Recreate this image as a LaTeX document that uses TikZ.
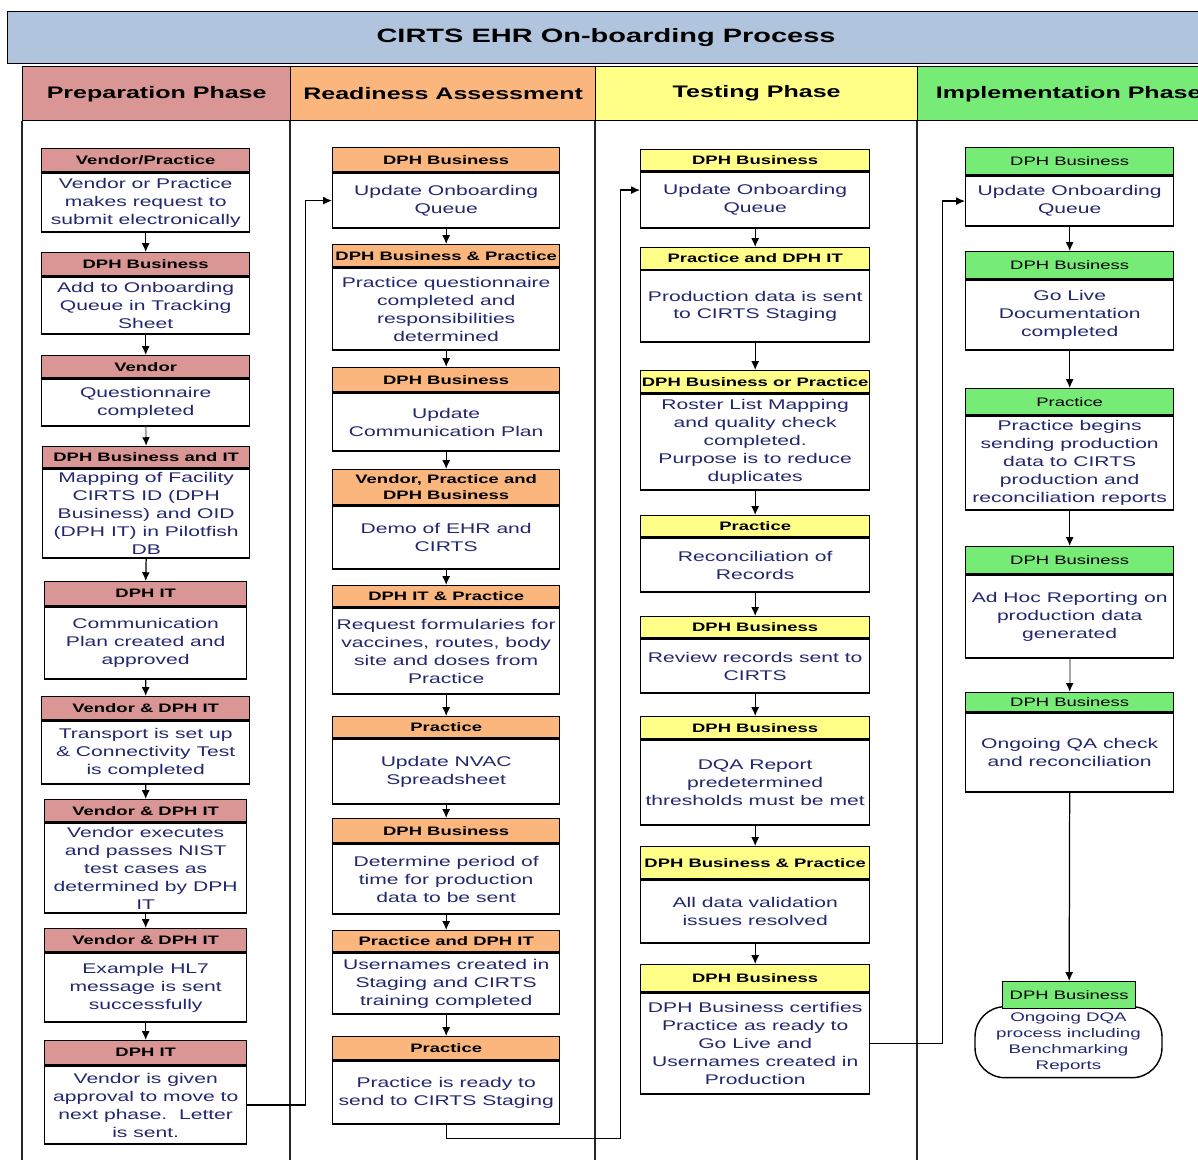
\documentclass[tikz,border=0pt]{standalone}
\usepackage{fontspec}
\setmainfont{Liberation Sans}[FakeStretch=1.5]
\usetikzlibrary{positioning,arrows.meta}

\definecolor{titleblue}{RGB}{176,196,222}
\definecolor{prepred}{RGB}{217,150,148}
\definecolor{readyorange}{RGB}{250,182,125}
\definecolor{testyellow}{RGB}{255,255,136}
\definecolor{implgreen}{RGB}{118,236,118}
\definecolor{bodyblue}{RGB}{35,40,110}

\tikzset{
    phase/.style={draw, line width=0.8pt, anchor=north west, inner sep=0pt, minimum height=1.08cm, font=\fontsize{9.5}{11}\selectfont\bfseries},
    hdr/.style={draw, line width=0.8pt, anchor=north west, inner sep=0pt, align=center, font=\fontsize{7}{9}\selectfont\bfseries},
    prep/.style={hdr, fill=prepred, minimum width=4.04cm},
    ready/.style={hdr, fill=readyorange, minimum width=4.54cm},
    test/.style={hdr, fill=testyellow, minimum width=4.58cm},
    impl/.style={hdr, fill=implgreen, minimum width=4.16cm, font=\fontsize{7}{9}\selectfont},
    txt/.style={draw, line width=0.8pt, fill=white, inner sep=0pt, align=center, text=bodyblue, font=\fontsize{8}{10.2}\selectfont},
    lane/.style={line width=0.7pt, draw=black!85},
    flow/.style={line width=0.7pt, -{Latex[length=5pt,width=4.5pt]}},
    flowgray/.style={line width=1.1pt, draw=black!35, -{Latex[length=5pt,width=4.5pt,color=black]}},
}

\begin{document}
\begin{tikzpicture}[x=0.02cm, y=-0.02cm]
    \useasboundingbox (0,0) rectangle (1198,1160);
    \clip (0,0) rectangle (1198,1160);

    % title and phases
    \node[draw, line width=0.8pt, fill=titleblue, anchor=north west, inner sep=0pt, minimum width=23.94cm, minimum height=1.04cm, font=\fontsize{11}{13}\selectfont\bfseries] (title) at (7,11) {CIRTS EHR On-boarding Process};
    \node[phase, fill=prepred, minimum width=5.36cm] (prep) at (22,66) {Preparation Phase};
    \node[phase, fill=readyorange, minimum width=6.10cm] (ready) at (290,66) {Readiness Assessment};
    \node[phase, fill=testyellow, minimum width=6.44cm] (test) at (595,66) {Testing Phase};
    \node[phase, fill=implgreen, minimum width=6.04cm] (impl) at (917,66) {Implementation Phase};

    \draw[lane] (prep.south west) -- ++(0,1040);
    \draw[lane] (ready.south west) -- ++(0,1040);
    \draw[lane] (test.south west) -- ++(0,1040);
    \draw[lane] (impl.south west) -- ++(0,1040);

    % Preparation Phase
    \node[prep, minimum width=4.16cm, minimum height=0.46cm] (p1h) at (41,148) {Vendor/Practice};
    \node[txt, minimum width=4.16cm, minimum height=1.18cm, below=0pt of p1h] (p1) {Vendor or Practice\\makes request to\\submit electronically};
    \node[prep, minimum width=4.16cm, minimum height=0.46cm] (p2h) at (41,252) {DPH Business};
    \node[txt, minimum width=4.16cm, minimum height=1.14cm, below=0pt of p2h] (p2) {Add to Onboarding\\Queue in Tracking\\Sheet};
    \node[prep, minimum width=4.16cm, minimum height=0.44cm] (p3h) at (41,355) {Vendor};
    \node[txt, minimum width=4.16cm, minimum height=0.94cm, below=0pt of p3h] (p3) {Questionnaire\\completed};
    \node[prep, minimum width=4.14cm, minimum height=0.42cm] (p4h) at (42,446) {DPH Business and IT};
    \node[txt, minimum width=4.14cm, minimum height=1.78cm, below=0pt of p4h] (p4) {Mapping of Facility\\CIRTS ID (DPH\\Business) and OID\\(DPH IT) in Pilotfish\\DB};
    \node[prep, minimum height=0.48cm] (p5h) at (44,581) {DPH IT};
    \node[txt, minimum width=4.04cm, minimum height=1.44cm, below=0pt of p5h] (p5) {Communication\\Plan created and\\approved};
    \node[prep, minimum width=4.16cm, minimum height=0.46cm] (p6h) at (41,696) {Vendor \& DPH IT};
    \node[txt, minimum width=4.16cm, minimum height=1.26cm, below=0pt of p6h] (p6) {Transport is set up\\\& Connectivity Test\\is completed};
    \node[prep, minimum height=0.44cm] (p7h) at (44,799) {Vendor \& DPH IT};
    \node[txt, minimum width=4.04cm, minimum height=1.80cm, below=0pt of p7h] (p7) {Vendor executes\\and passes NIST\\test cases as\\determined by DPH\\IT};
    \node[prep, minimum height=0.46cm] (p8h) at (44,928) {Vendor \& DPH IT};
    \node[txt, minimum width=4.04cm, minimum height=1.38cm, below=0pt of p8h] (p8) {Example HL7\\message is sent\\successfully};
    \node[prep, minimum height=0.48cm] (p9h) at (44,1040) {DPH IT};
    \node[txt, minimum width=4.04cm, minimum height=1.56cm, below=0pt of p9h] (p9) {Vendor is given\\approval to move to\\next phase.\ \ Letter\\is sent.};

    \draw[flow] (p1.south) -- (p2h.north);
    \draw[flow] (p2.south) -- (p3h.north);
    \draw[flowgray] (p3.south) -- (p4h.north);
    \draw[flow] (p4.south) -- (p5h.north);
    \draw[flow] (p5.south) -- (p6h.north);
    \draw[flow] (p6.south) -- (p7h.north);
    \draw[flow] (p7.south) -- (p8h.north);
    \draw[flow] (p8.south) -- (p9h.north);

    % Readiness Assessment
    \node[ready, minimum height=0.48cm] (r1h) at (332,147) {DPH Business};
    \node[txt, minimum width=4.54cm, minimum height=1.10cm, below=0pt of r1h] (r1) {Update Onboarding\\Queue};
    \node[ready, minimum height=0.44cm] (r2h) at (332,244) {DPH Business \& Practice};
    \node[txt, minimum width=4.54cm, minimum height=1.64cm, below=0pt of r2h] (r2) {Practice questionnaire\\completed and\\responsibilities\\determined};
    \node[ready, minimum height=0.48cm] (r3h) at (332,367) {DPH Business};
    \node[txt, minimum width=4.54cm, minimum height=1.16cm, below=0pt of r3h] (r3) {Update\\Communication Plan};
    \node[ready, minimum height=0.70cm] (r4h) at (332,469) {Vendor, Practice and\\DPH Business};
    \node[txt, minimum width=4.54cm, minimum height=1.26cm, below=0pt of r4h] (r4) {Demo of EHR and\\CIRTS};
    \node[ready, minimum height=0.42cm] (r5h) at (332,585) {DPH IT \& Practice};
    \node[txt, minimum width=4.54cm, minimum height=1.72cm, below=0pt of r5h] (r5) {Request formularies for\\vaccines, routes, body\\site and doses from\\Practice};
    \node[ready, minimum height=0.42cm] (r6h) at (332,716) {Practice};
    \node[txt, minimum width=4.54cm, minimum height=1.30cm, below=0pt of r6h] (r6) {Update NVAC\\Spreadsheet};
    \node[ready, minimum height=0.48cm] (r7h) at (332,818) {DPH Business};
    \node[txt, minimum width=4.54cm, minimum height=1.40cm, below=0pt of r7h] (r7) {Determine period of\\time for production\\data to be sent};
    \node[ready, minimum height=0.42cm] (r8h) at (332,930) {Practice and DPH IT};
    \node[txt, minimum width=4.54cm, minimum height=1.22cm, below=0pt of r8h] (r8) {Usernames created in\\Staging and CIRTS\\training completed};
    \node[ready, minimum height=0.46cm] (r9h) at (332,1036) {Practice};
    \node[txt, minimum width=4.54cm, minimum height=1.26cm, below=0pt of r9h] (r9) {Practice is ready to\\send to CIRTS Staging};

    \draw[flow] (r1.south) -- (r2h.north);
    \draw[flow] (r2.south) -- (r3h.north);
    \draw[flow] (r3.south) -- (r4h.north);
    \draw[flow] (r4.south) -- (r5h.north);
    \draw[flow] (r5.south) -- (r6h.north);
    \draw[flow] (r6.south) -- (r7h.north);
    \draw[flow] (r7.south) -- (r8h.north);
    \draw[flow] (r8.south) -- (r9h.north);

    % Testing Phase
    \node[test, minimum height=0.42cm] (t1h) at (640,149) {DPH Business};
    \node[txt, minimum width=4.58cm, minimum height=1.12cm, below=0pt of t1h] (t1) {Update Onboarding\\Queue};
    \node[test, minimum height=0.43cm] (t2h) at (640,247) {Practice and DPH IT};
    \node[txt, minimum width=4.58cm, minimum height=1.43cm, below=0pt of t2h] (t2) {Production data is sent\\to CIRTS Staging};
    \node[test, minimum height=0.44cm] (t3h) at (640,370) {DPH Business or Practice};
    \node[txt, minimum width=4.58cm, minimum height=1.92cm, below=0pt of t3h] (t3) {Roster List Mapping\\and quality check\\completed.\\Purpose is to reduce\\duplicates};
    \node[test, minimum height=0.42cm] (t4h) at (640,515) {Practice};
    \node[txt, minimum width=4.58cm, minimum height=1.08cm, below=0pt of t4h] (t4) {Reconciliation of\\Records};
    \node[test, minimum height=0.42cm] (t5h) at (640,616) {DPH Business};
    \node[txt, minimum width=4.58cm, minimum height=1.08cm, below=0pt of t5h] (t5) {Review records sent to\\CIRTS};
    \node[test, minimum height=0.44cm] (t6h) at (640,716) {DPH Business};
    \node[txt, minimum width=4.58cm, minimum height=1.70cm, below=0pt of t6h] (t6) {DQA Report\\predetermined\\thresholds must be met};
    \node[test, minimum height=0.64cm] (t7h) at (640,846) {DPH Business \& Practice};
    \node[txt, minimum width=4.58cm, minimum height=1.26cm, below=0pt of t7h] (t7) {All data validation\\issues resolved};
    \node[test, minimum height=0.54cm] (t8h) at (640,964) {DPH Business};
    \node[txt, minimum width=4.58cm, minimum height=2.02cm, below=0pt of t8h] (t8) {DPH Business certifies\\Practice as ready to\\Go Live and\\Usernames created in\\Production};

    \draw[flow] (t1.south) -- (t2h.north);
    \draw[flow] (t2.south) -- (t3h.north);
    \draw[flow] (t3.south) -- (t4h.north);
    \draw[flow] (t4.south) -- (t5h.north);
    \draw[flow] (t5.south) -- (t6h.north);
    \draw[flow] (t6.south) -- (t7h.north);
    \draw[flow] (t7.south) -- (t8h.north);

    % Implementation Phase
    \node[impl, minimum height=0.54cm] (i1h) at (965,147) {DPH Business};
    \node[txt, minimum width=4.16cm, minimum height=1.00cm, below=0pt of i1h] (i1) {Update Onboarding\\Queue};
    \node[impl, minimum height=0.54cm] (i2h) at (965,251) {DPH Business};
    \node[txt, minimum width=4.16cm, minimum height=1.40cm, below=0pt of i2h] (i2) {Go Live\\Documentation\\completed};
    \node[impl, minimum height=0.52cm] (i3h) at (965,388) {Practice};
    \node[txt, minimum width=4.16cm, minimum height=1.88cm, below=0pt of i3h] (i3) {Practice begins\\sending production\\data to CIRTS\\production and\\reconciliation reports};
    \node[impl, minimum height=0.54cm] (i4h) at (965,546) {DPH Business};
    \node[txt, minimum width=4.16cm, minimum height=1.66cm, below=0pt of i4h] (i4) {Ad Hoc Reporting on\\production data\\generated};
    \node[impl, minimum height=0.38cm] (i5h) at (965,692) {DPH Business};
    \node[txt, minimum width=4.16cm, minimum height=1.58cm, below=0pt of i5h] (i5) {Ongoing QA check\\and reconciliation};
    \node[txt, rounded corners=0.6cm, minimum width=3.74cm, minimum height=1.42cm, anchor=north, font=\fontsize{7.1}{9.2}\selectfont] (i6) at (1068.5,1006) {Ongoing DQA\\process including\\Benchmarking\\Reports};
    \node[impl, minimum width=2.66cm, minimum height=0.54cm] (i6h) at (1002,981) {DPH Business};

    \draw[flow] (i1.south) -- (i2h.north);
    \draw[flow] (i2.south) -- (i3h.north);
    \draw[flow] (i3.south) -- (i4h.north);
    \draw[flowgray] (i4.south) -- (i5h.north);
    \draw[flow] (i5.south) -- (i6h.north);

    % links between phases
    \draw[flow] (p9.east) -- ++(58,0) |- (r1.west);
    \draw[flow] (r9.south) -- ++(0,14) -- ++(174,0) |- ([yshift=5.7pt]t1.west);
    \draw[flow] (t8.east) -- ++(72,0) |- (i1.west);
\end{tikzpicture}
\end{document}
